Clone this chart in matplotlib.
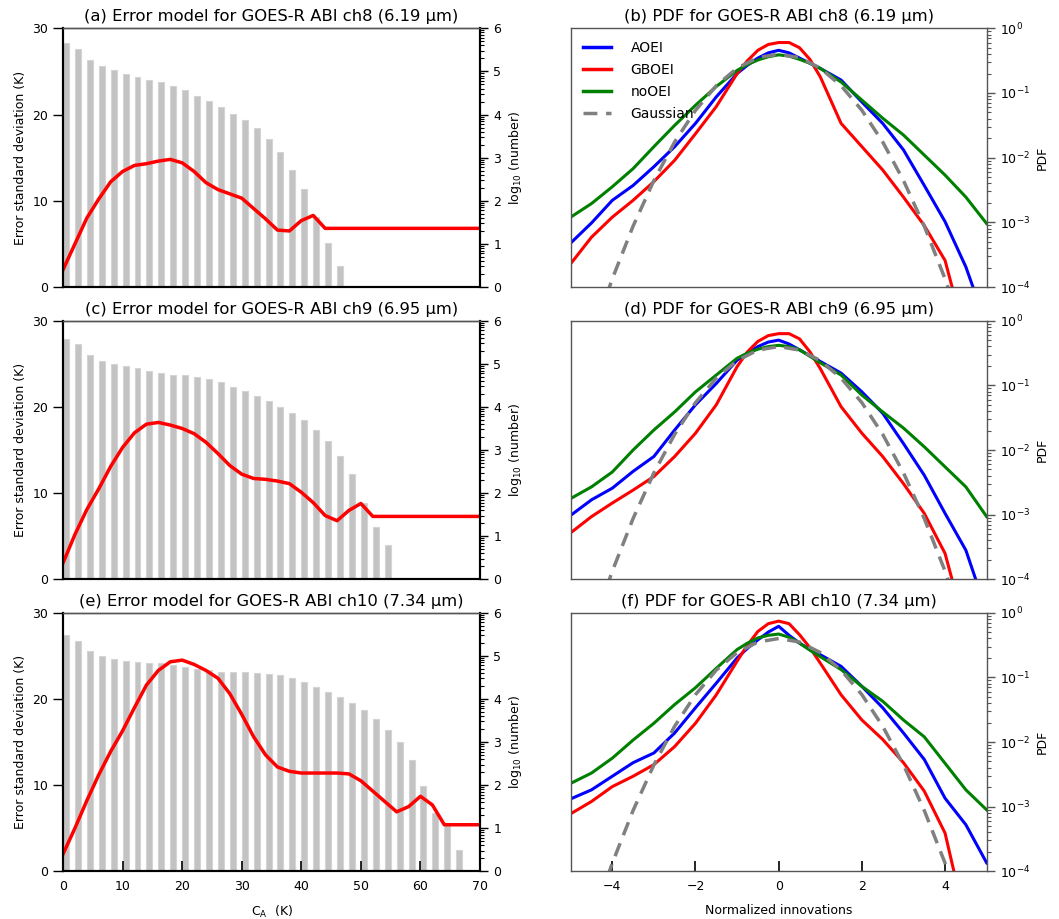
import numpy as np
import matplotlib
matplotlib.use('Agg')
from matplotlib import pyplot as plt
from matplotlib.ticker import LogLocator, NullFormatter

# ---- left column: error model (red line, K) + histogram (log10 number)
bar_a = [5.67, 5.52, 5.26, 5.12, 5.03, 4.95, 4.88, 4.81, 4.75, 4.67, 4.57, 4.44,
         4.31, 4.18, 4.02, 3.87, 3.68, 3.44, 3.13, 2.71, 2.27, 1.63, 1.01, 0.49]
bar_c = [5.58, 5.45, 5.20, 5.07, 5.00, 4.96, 4.90, 4.84, 4.79, 4.74, 4.73, 4.69,
         4.64, 4.57, 4.47, 4.37, 4.25, 4.13, 4.01, 3.85, 3.69, 3.46, 3.21, 2.85,
         2.45, 1.77, 1.22, 0.80, 0.03]
bar_e = [5.48, 5.34, 5.11, 4.99, 4.93, 4.88, 4.86, 4.84, 4.83, 4.79, 4.74, 4.70,
         4.66, 4.62, 4.62, 4.62, 4.60, 4.58, 4.56, 4.49, 4.39, 4.28, 4.16, 4.04,
         3.90, 3.74, 3.53, 3.29, 3.01, 2.58, 1.99, 1.35, 1.11, 0.49]

err_x_a = [0, 2, 4, 6, 8, 10, 12, 14, 16, 18, 20, 22, 24, 26, 28, 30, 32, 34, 36, 38, 40, 42, 44, 70]
err_a = [2.0, 5.0, 8.0, 10.2, 12.2, 13.4, 14.1, 14.3, 14.6, 14.8, 14.4, 13.4,
         12.1, 11.3, 10.8, 10.3, 9.1, 7.9, 6.6, 6.5, 7.7, 8.3, 6.8, 6.8]
err_x_c = [0, 2, 4, 6, 8, 10, 12, 14, 16, 18, 20, 22, 24, 26, 28, 30, 32, 34, 36,
           38, 40, 42, 44, 46, 48, 50, 52, 70]
err_c = [1.9, 5.2, 8.1, 10.5, 13.1, 15.3, 17.0, 18.0, 18.2, 17.9, 17.5, 16.9,
         15.9, 14.6, 13.2, 12.2, 11.7, 11.6, 11.4, 11.1, 10.1, 8.9, 7.4, 6.8,
         8.0, 8.8, 7.3, 7.3]
err_x_e = [0, 2, 4, 6, 8, 10, 12, 14, 16, 18, 20, 22, 24, 26, 28, 30, 32, 34, 36,
           38, 40, 42, 44, 46, 48, 50, 52, 54, 56, 58, 60, 62, 64, 70]
err_e = [2.0, 5.0, 8.2, 11.2, 13.9, 16.3, 19.0, 21.6, 23.3, 24.3, 24.5, 24.0,
         23.3, 22.4, 20.6, 18.2, 15.6, 13.5, 12.1, 11.6, 11.4, 11.4, 11.4, 11.4,
         11.3, 10.5, 9.3, 8.1, 6.9, 7.5, 8.7, 7.7, 5.4, 5.4]

# ---- right column: PDFs (values are log10 of PDF)
pdf_x = [-5, -4.5, -4, -3.5, -3, -2.5, -2, -1.5, -1, -0.75, -0.5, -0.25, 0,
         0.25, 0.5, 0.75, 1, 1.5, 2, 2.5, 3, 3.5, 4, 4.5, 5]

aoei_b = [-3.32, -3.01, -2.66, -2.43, -2.14, -1.83, -1.47, -1.06, -0.70, -0.57, -0.46, -0.38, -0.34,
          -0.38, -0.46, -0.54, -0.62, -0.80, -1.14, -1.47, -1.88, -2.43, -2.99, -3.69, -4.6]
gboei_b = [-3.64, -3.23, -2.92, -2.66, -2.37, -2.04, -1.63, -1.21, -0.70, -0.50, -0.34, -0.25, -0.22,
           -0.22, -0.30, -0.48, -0.75, -1.47, -1.83, -2.19, -2.61, -3.05, -3.59, -4.8, -5.5]
nooei_b = [-2.92, -2.71, -2.45, -2.17, -1.83, -1.50, -1.19, -0.90, -0.65, -0.56, -0.49, -0.44, -0.41,
           -0.43, -0.48, -0.54, -0.62, -0.83, -1.11, -1.39, -1.65, -1.96, -2.27, -2.61, -3.02]

aoei_d = [-3.01, -2.77, -2.59, -2.33, -2.10, -1.69, -1.30, -0.97, -0.61, -0.50, -0.40, -0.33, -0.30,
          -0.36, -0.45, -0.54, -0.63, -0.81, -1.10, -1.43, -1.90, -2.39, -2.98, -3.55, -4.5]
gboei_d = [-3.28, -3.03, -2.82, -2.62, -2.41, -2.10, -1.74, -1.30, -0.71, -0.48, -0.32, -0.23, -0.20,
           -0.20, -0.28, -0.48, -0.74, -1.33, -1.74, -2.10, -2.52, -2.98, -3.60, -4.8, -5.5]
nooei_d = [-2.75, -2.57, -2.34, -2.00, -1.69, -1.41, -1.10, -0.84, -0.58, -0.50, -0.44, -0.40, -0.38,
           -0.40, -0.45, -0.55, -0.65, -0.84, -1.15, -1.41, -1.66, -1.95, -2.26, -2.57, -3.03]

aoei_f = [-2.88, -2.74, -2.53, -2.32, -2.17, -1.86, -1.47, -1.09, -0.70, -0.55, -0.42, -0.30, -0.21,
          -0.35, -0.47, -0.57, -0.65, -0.83, -1.14, -1.47, -1.86, -2.27, -2.87, -3.28, -3.87]
gboei_f = [-3.11, -2.92, -2.69, -2.53, -2.35, -2.07, -1.71, -1.27, -0.75, -0.50, -0.29, -0.17, -0.13,
           -0.17, -0.34, -0.54, -0.78, -1.27, -1.66, -1.96, -2.32, -2.76, -3.41, -4.8, -5.5]
nooei_f = [-2.64, -2.48, -2.25, -1.97, -1.71, -1.42, -1.16, -0.86, -0.57, -0.47, -0.39, -0.35, -0.33,
           -0.38, -0.47, -0.58, -0.68, -0.88, -1.14, -1.37, -1.66, -1.92, -2.33, -2.74, -3.05]

gauss_x = [-4.5, -4, -3.5, -3, -2.5, -2, -1.5, -1, -0.5, 0, 0.5, 1, 1.5, 2, 2.5, 3, 3.5, 4, 4.5]
gauss_y = [1.60e-5, 1.338e-4, 8.73e-4, 4.432e-3, 1.753e-2, 5.399e-2, 0.1295, 0.2420,
           0.3521, 0.3989, 0.3521, 0.2420, 0.1295, 5.399e-2, 1.753e-2, 4.432e-3,
           8.73e-4, 1.338e-4, 1.60e-5]

left_titles = ['(a) Error model for GOES-R ABI ch8 (6.19 \u00b5m)',
               '(c) Error model for GOES-R ABI ch9 (6.95 \u00b5m)',
               '(e) Error model for GOES-R ABI ch10 (7.34 \u00b5m)']
right_titles = ['(b) PDF for GOES-R ABI ch8 (6.19 \u00b5m)',
                '(d) PDF for GOES-R ABI ch9 (6.95 \u00b5m)',
                '(f) PDF for GOES-R ABI ch10 (7.34 \u00b5m)']

bars = [bar_a, bar_c, bar_e]
errs = [(err_x_a, err_a), (err_x_c, err_c), (err_x_e, err_e)]
pdfs = [(aoei_b, gboei_b, nooei_b), (aoei_d, gboei_d, nooei_d), (aoei_f, gboei_f, nooei_f)]

plt.rcParams['font.family'] = 'DejaVu Sans'
fig = plt.figure(figsize=(10.59, 9.19), dpi=100)

rows = [(0.6877, 0.2815), (0.3696, 0.2814), (0.0519, 0.2814)]
spine_gray = '#555555'

for i, (b0, h) in enumerate(rows):
    last = (i == 2)

    # left panel
    ax = fig.add_axes([0.0595, b0, 0.3938, h])
    ax2 = ax.twinx()
    ax.set_zorder(ax2.get_zorder() + 1)
    ax.patch.set_visible(False)

    xb = np.arange(len(bars[i])) * 2
    ax2.bar(xb, 10 ** np.array(bars[i]), width=1.0, align='edge',
            color='#c3c3c3', edgecolor='#d4d4d4', linewidth=0.8)
    ax2.set_yscale('log')
    ax2.set_ylim(1, 1e6)
    ax2.set_yticks([10 ** k for k in range(7)])
    ax2.set_yticklabels([str(k) for k in range(7)])
    ax2.yaxis.set_minor_locator(LogLocator(base=10, subs=np.arange(2, 10), numticks=20))
    ax2.yaxis.set_minor_formatter(NullFormatter())
    ax2.tick_params(axis='y', which='major', direction='out', length=6, width=1, labelsize=9)
    ax2.tick_params(axis='y', which='minor', direction='out', length=3, width=0.8)
    ax2.set_ylabel('log$_{10}$ (number)', fontsize=9)

    ex, ey = errs[i]
    ax.plot(ex, ey, color='red', lw=2.5)
    ax.set_xlim(0, 70)
    ax.set_ylim(0, 30)
    ax.set_yticks([0, 10, 20, 30])
    ax.tick_params(axis='y', direction='out', length=7, width=1, labelsize=9)
    ax.set_ylabel('Error standard deviation (K)', fontsize=9)
    ax.set_title(left_titles[i], fontsize=11.8, pad=5)
    for a in (ax, ax2):
        for s in ('left', 'bottom', 'right'):
            a.spines[s].set_color('black')
            a.spines[s].set_linewidth(1.5)
        a.spines['top'].set_color(spine_gray)
        a.spines['top'].set_linewidth(1)
    if last:
        ax.set_xticks(range(0, 71, 10))
        ax.tick_params(axis='x', direction='in', length=7, width=1.2, labelsize=9, pad=6)
        ax.set_xlabel('C$_{\\rm A}$  (K)', fontsize=9, labelpad=8)
    else:
        ax.tick_params(axis='x', bottom=False, labelbottom=False)

    # right panel
    axr = fig.add_axes([0.5389, b0, 0.3928, h])
    aoei, gboei, nooei = pdfs[i]
    axr.plot(pdf_x, 10 ** np.array(aoei), color='blue', lw=2.2, label='AOEI')
    axr.plot(pdf_x, 10 ** np.array(gboei), color='red', lw=2.2, label='GBOEI')
    axr.plot(pdf_x, 10 ** np.array(nooei), color='green', lw=2.2, label='noOEI')
    axr.plot(gauss_x, gauss_y, color='gray', lw=2.5, dashes=(4, 2.5), label='Gaussian')
    axr.set_yscale('log')
    axr.set_xlim(-5, 5)
    axr.set_ylim(1e-4, 1)
    axr.yaxis.tick_right()
    axr.yaxis.set_label_position('right')
    axr.yaxis.set_minor_locator(LogLocator(base=10, subs=np.arange(2, 10), numticks=20))
    axr.yaxis.set_minor_formatter(NullFormatter())
    axr.tick_params(axis='y', which='major', direction='out', length=6, width=1,
                    color=spine_gray, labelsize=9)
    axr.tick_params(axis='y', which='minor', direction='out', length=3, width=0.8,
                    color=spine_gray)
    axr.set_ylabel('PDF', fontsize=9)
    axr.set_title(right_titles[i], fontsize=11.8, pad=5)
    for s in axr.spines.values():
        s.set_color(spine_gray)
        s.set_linewidth(1)
    if last:
        axr.set_xticks([-4, -2, 0, 2, 4])
        axr.tick_params(axis='x', direction='in', length=7, width=1.2, labelsize=9, pad=6)
        axr.set_xlabel('Normalized innovations', fontsize=9, labelpad=8)
    else:
        axr.tick_params(axis='x', bottom=False, labelbottom=False)
    if i == 0:
        leg = axr.legend(loc='upper left', frameon=False, fontsize=10, handlelength=2.0,
                         handletextpad=1.4, borderaxespad=0.5, labelspacing=0.58)
        for ln in leg.get_lines():
            ln.set_linewidth(2.5)

fig.savefig('out.png', dpi=100)
